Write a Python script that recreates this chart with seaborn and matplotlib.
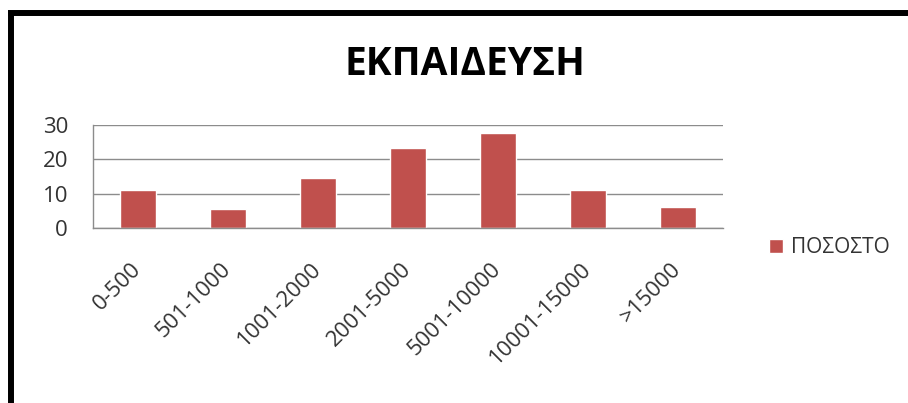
import numpy as np
import pandas as pd
import matplotlib
matplotlib.use('Agg')
import matplotlib.pyplot as plt
from matplotlib.lines import Line2D
import seaborn as sns

######################################### DATA #########################################

categories = ['0-500', '501-1000', '1001-2000', '2001-5000', '5001-10000', '10001-15000', '>15000']
percent = [11.0, 5.6, 14.5, 23.4, 27.8, 11.1, 6.1]
series_name = 'ΠΟΣΟΣΤΟ'
title = 'ΕΚΠΑΙΔΕΥΣΗ'
y_ticks = [0, 10, 20, 30]

df = pd.DataFrame({'range': categories, 'value': percent, 'series': series_name})

######################################### PLOT #########################################

sns.set_style('white')
plt.rcParams['font.family'] = ['Open Sans', 'DejaVu Sans']

fig = plt.figure(figsize=(9.08, 4.03), dpi=100)
ax = fig.add_axes([0.1024, 0.4335, 0.6939, 0.2563])

sns.barplot(data=df, x='range', y='value', hue='series', palette=['#C0504D'],
            width=0.4, dodge=False, saturation=1, ax=ax, legend=True)

grid_col = '#8c8c8c'
text_col = '#333333'
ax.set_ylim(0, 30)
ax.set_xlim(-0.5, len(categories) - 0.5)
ax.set_yticks(y_ticks)
ax.set_yticklabels([str(t) for t in y_ticks], fontsize=16, color=text_col)
ax.yaxis.grid(True, color=grid_col, linewidth=1)
ax.set_axisbelow(True)
ax.set_xlabel('')
ax.set_ylabel('')

ax.set_xticks(range(len(categories)))
ax.set_xticklabels(categories, rotation=45, ha='right', va='center',
                   rotation_mode='anchor', fontsize=16, color=text_col)
ax.tick_params(axis='x', which='major', length=0, pad=27)
ax.set_xticks(np.arange(-0.5, len(categories)), minor=True)
ax.tick_params(axis='x', which='minor', length=5, color=grid_col, width=1, direction='out')
ax.tick_params(axis='y', length=6, color=grid_col, width=1, direction='out', pad=12)

for s in ['top', 'right']:
    ax.spines[s].set_visible(False)
for s in ['left', 'bottom']:
    ax.spines[s].set_color(grid_col)
    ax.spines[s].set_linewidth(1)

ax.legend(loc='center left', bbox_to_anchor=(0.838, 0.386), bbox_transform=fig.transFigure,
          frameon=False, fontsize=15, handlelength=0.65, handleheight=0.65,
          handletextpad=0.4, borderaxespad=0, labelcolor=text_col)

fig.text(0.512, 0.84, title, ha='center', va='center', fontsize=28,
         fontweight='bold', color='black')

# frame lines of the original chart box
fig.add_artist(Line2D([0.0122, 0.0122], [0.0, 0.9715], color='black', linewidth=4.3,
                      transform=fig.transFigure, solid_capstyle='butt'))
fig.add_artist(Line2D([0.009, 1.0], [0.968, 0.968], color='black', linewidth=4.3,
                      transform=fig.transFigure, solid_capstyle='butt'))

plt.savefig('out.png', dpi=100, format='png', facecolor='white')
